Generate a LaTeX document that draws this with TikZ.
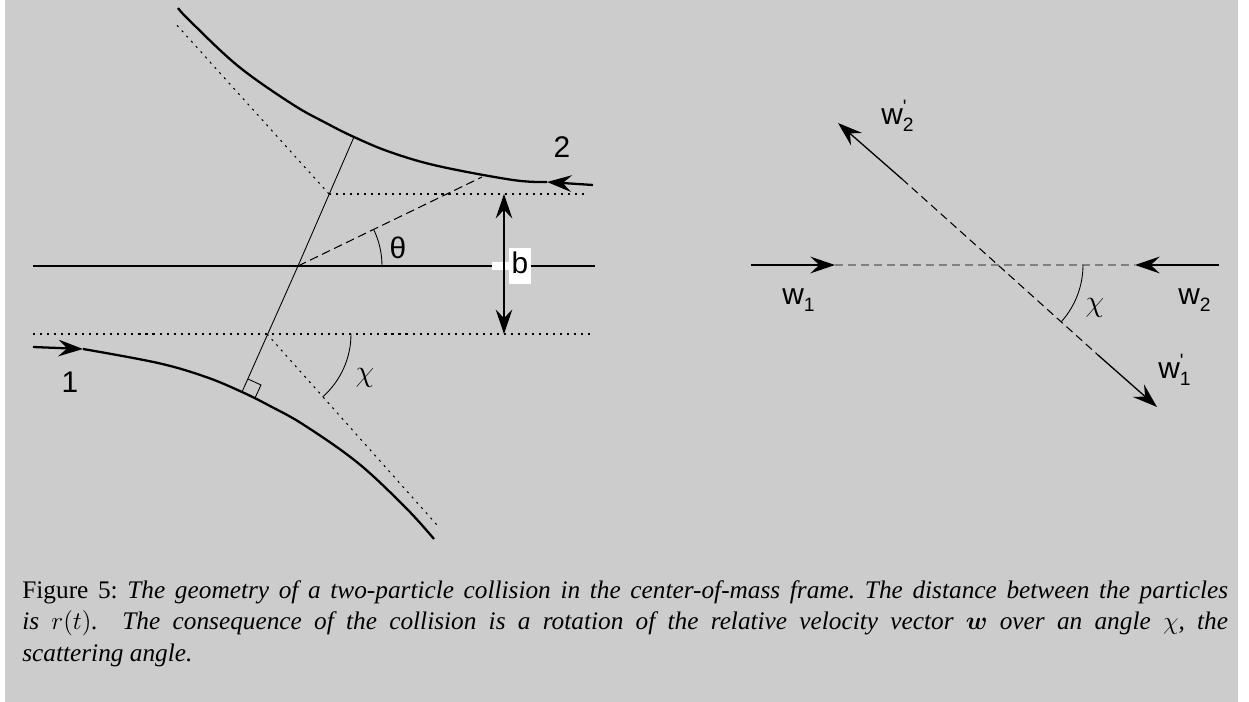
\documentclass[tikz,border=0pt]{standalone}
\usepackage{amsmath}
\usepackage{fontspec}
\setmainfont{Liberation Serif}
\newfontfamily\labfont{Liberation Sans}
\usetikzlibrary{arrows.meta}
\definecolor{panel}{HTML}{CCCCCC}
\definecolor{guide}{HTML}{808080}
\tikzset{
  >={Stealth[length=14pt,width=9.5pt,inset=5pt]},
  traj/.style={line width=1.3pt},
  aux/.style={line width=0.6pt, dash pattern=on 1.2pt off 2.8pt},
  thinline/.style={line width=0.5pt},
  lab/.style={font=\labfont\fontsize{17}{20}\selectfont, inner sep=0pt},
  ang/.style={font=\fontsize{17}{20}\selectfont, inner sep=0pt},
}
\newcommand{\wlab}[2]{w$_{\mbox{\fontsize{11}{13}\selectfont #1}}^{\mbox{\fontsize{11}{13}\selectfont #2}}$}
\begin{document}
\begin{tikzpicture}[x=0.02cm, y=-0.02cm]
  \useasboundingbox (0,0) rectangle (1249,702);
  \fill[white] (0,0) rectangle (1249,702); \fill[panel] (5,0) rectangle (1238,702);
  % left: collision geometry
  \coordinate (O) at (298,266); \coordinate (A) at (329,194); \coordinate (B) at (267,334);
  \coordinate (T) at (354,137); \coordinate (F) at (242,392); \coordinate (E) at (482,177);
  \draw[aux] (A) -- (588,194); \draw[aux] (33,334) -- (595,334);
  \draw[aux] (A) -- (174,22); \draw[aux] (B) -- (437,525);
  \draw[line width=1.1pt] (33,266) -- (595,266);
  \fill[white] (492,262) rectangle (528,270);
  \node[lab, fill=white, text height=14pt, text depth=6pt, inner xsep=1.5pt] (b) at (520,266) {b};
  \draw[line width=0.6pt, <->] (504,194) -- (504,334);
  \draw[thinline] (T) -- (O) -- (F);
  \draw[thinline] (248,379) -- (261,385) -- (255,398);
  \draw[line width=0.6pt, dash pattern=on 5pt off 2.6pt] (O) -- (E);
  \draw[thinline] (382,266) arc[start angle=0, end angle=-26, radius=84];
  \draw[thinline] (351,334) arc[start angle=0, end angle=48.5, radius=84];
  \draw[traj, ->] (593,185) -- (547,182);
  \draw[traj] plot[smooth, tension=0.6] coordinates {(547,182) (513,180) (438,166) (390,152) (354,137) (326,123) (292,104) (238,66) (190,21) (178,8)};
  \draw[traj, ->] (33,347) -- (83,349);
  \draw[traj] plot[smooth, tension=0.6] coordinates {(83,349) (158,363) (206,377) (242,392) (270,406) (304,425) (358,463) (406,508) (434,539)};
  \node[lab] (p1) at (70,382) {1}; \node[lab] (p2) at (562,147) {2};
  \node[lab] (th) at (398,248) {θ}; \node[ang] (chiL) at (365,378) {$\chi$};
  % right: relative velocities
  \coordinate (C) at (998,265);
  \draw[line width=1.2pt, ->] (751,265) -- (835,265);
  \draw[line width=1.2pt, ->] (1219,265) -- (1135,265);
  \draw[guide, line width=0.9pt, dash pattern=on 4.6pt off 2.8pt] (835,265) -- (1135,265);
  \draw[line width=0.75pt, ->] (902,179) -- (838,123);
  \draw[line width=0.6pt, dash pattern=on 4.6pt off 2.8pt] (902,179) -- (C) -- (1098,355);
  \draw[line width=0.75pt, ->] (1098,355) -- (1157,407);
  \draw[thinline] (1083,265) arc[start angle=0, end angle=41.7, radius=85];
  \node[lab] (w1) at (799,300) {\wlab{1}{}}; \node[lab] (w2) at (1195,300) {\wlab{2}{}};
  \node[lab] (w2p) at (898,116) {\wlab{2}{\textquotesingle}}; \node[lab] (w1p) at (1175,370) {\wlab{1}{\textquotesingle}};
  \node[ang] (chiR) at (1095,308) {$\chi$};
  % caption
  \node[anchor=north west, inner sep=0pt, text width=24.12cm, align=justify, font=\fontsize{14.4}{18.1}\selectfont\itshape\frenchspacing] (cap) at (22,580)
    {{\upshape Figure 5:} The geometry of a two-particle collision in the center-of-mass frame. The distance between the particles\linebreak
     is $r(t)$.\ \ The consequence of the collision is a rotation of the relative velocity vector $\boldsymbol{w}$ over an angle $\chi$, the\linebreak
     scattering angle.};
\end{tikzpicture}
\end{document}
